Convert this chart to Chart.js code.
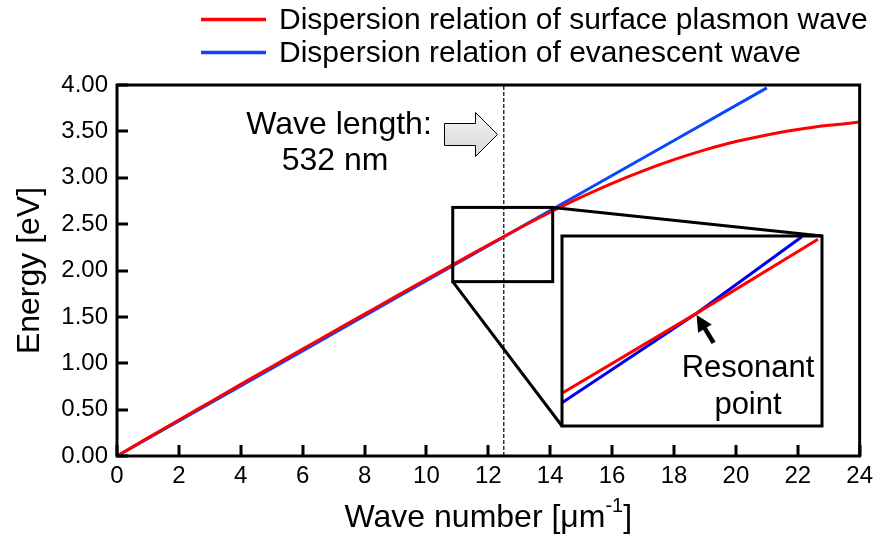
<!DOCTYPE html>
<html><head><meta charset="utf-8">
<script src="https://cdn.jsdelivr.net/npm/chart.js@4/dist/chart.umd.min.js"></script>
<style>
html,body{margin:0;padding:0;background:#fff;}
#wrap{position:relative;width:879px;height:538px;overflow:hidden;}
#main{position:absolute;left:0;top:0;}
#inset{position:absolute;left:559px;top:233px;}
</style></head><body>
<div id="wrap"><canvas id="main" width="879" height="538"></canvas><canvas id="inset" width="266" height="196"></canvas></div>
<script>
const FONT = '"Liberation Sans", Arial, Helvetica, sans-serif';

// Surface plasmon dispersion (wave number in 1/um, energy in eV)
const waveNumber = [0,1,2,3,4,5,6,7,8,9,10,11,12,13,14,15,16,17,18,19,20,21,22,23,24];
const plasmonEnergy = [0,0.195,0.388,0.580,0.772,0.962,1.152,1.342,1.530,1.718,1.905,2.090,2.275,2.455,2.628,2.790,2.940,3.075,3.195,3.300,3.390,3.460,3.520,3.565,3.600];

// Evanescent wave (light line)
const evanescentK = [0,3,6,9,12,15,18,21];
const evanescentEnergy = [0,0.567,1.134,1.701,2.268,2.835,3.402,3.969];

// 532 nm excitation marker
const laserK = [12.5,12.5];
const laserEnergy = [0,4];

const xTicks = [0,2,4,6,8,10,12,14,16,18,20,22,24];
const yTicks = [0,0.5,1,1.5,2,2.5,3,3.5,4];

// Magnified window around the resonance
const zoomK = [10.85,14.08];
const zoomEnergy = [1.88,2.68];
const insetPlasmonK = [10.85,12.51,14.03];
const insetPlasmonE = [2.018,2.352,2.666];
const insetEvanescentK = [10.85,12.51,13.83];
const insetEvanescentE = [1.978,2.352,2.677];
const resonance = [12.51,2.352];

const seriesNames = ['Dispersion relation of surface plasmon wave','Dispersion relation of evanescent wave'];
const seriesColors = ['#ff0000','#0a46ff'];

const INSET_BOX = {left:562, top:236, right:822, bottom:426};

const pts = (xs, ys) => xs.map((x,i)=>({x:x, y:ys[i]}));

const framePlugin = {
  id:'frame',
  afterDraw(chart){
    const ctx = chart.ctx, a = chart.chartArea;
    const xs = chart.scales.x, ys = chart.scales.y;
    ctx.save();
    ctx.strokeStyle = '#000';
    ctx.lineWidth = 3;
    ctx.lineCap = 'butt';
    ctx.strokeRect(a.left, a.top, a.right-a.left, a.bottom-a.top);
    // inward tick marks
    ctx.beginPath();
    xTicks.forEach(v=>{
      const px = Math.round(xs.getPixelForValue(v));
      ctx.moveTo(px, a.bottom); ctx.lineTo(px, a.bottom-11);
    });
    yTicks.forEach(v=>{
      const py = Math.round(ys.getPixelForValue(v));
      ctx.moveTo(a.left, py); ctx.lineTo(a.left+11, py);
    });
    ctx.stroke();

    // magnified window and its connectors
    const zl = xs.getPixelForValue(zoomK[0]), zr = xs.getPixelForValue(zoomK[1]);
    const zt = ys.getPixelForValue(zoomEnergy[1]), zb = ys.getPixelForValue(zoomEnergy[0]);
    ctx.strokeRect(zl, zt, zr-zl, zb-zt);
    ctx.beginPath();
    ctx.moveTo(zr, zt); ctx.lineTo(INSET_BOX.right, INSET_BOX.top);
    ctx.moveTo(zl, zb); ctx.lineTo(INSET_BOX.left, INSET_BOX.bottom);
    ctx.stroke();

    // legend
    ctx.fillStyle = '#000';
    ctx.font = '30px ' + FONT;
    ctx.textBaseline = 'middle';
    ctx.textAlign = 'left';
    chart.data.datasets.slice(0,2).forEach((ds,i)=>{
      const y = 19.5 + i*33;
      ctx.strokeStyle = ds.borderColor;
      ctx.lineWidth = 3.5;
      ctx.beginPath(); ctx.moveTo(201,y); ctx.lineTo(266,y); ctx.stroke();
      ctx.fillText(ds.label, 279, y+1);
    });

    // axis titles
    ctx.textBaseline = 'alphabetic';
    ctx.font = '32px ' + FONT;
    ctx.save();
    ctx.translate(39, (a.top+a.bottom)/2);
    ctx.rotate(-Math.PI/2);
    ctx.textAlign = 'center';
    ctx.fillText('Energy [eV]', 0, 0);
    ctx.restore();

    const t1 = 'Wave number [\u03bcm', t2 = '-1', t3 = ']';
    ctx.font = '32px ' + FONT;
    const w1 = ctx.measureText(t1).width, w3 = ctx.measureText(t3).width;
    ctx.font = '20px ' + FONT;
    const w2 = ctx.measureText(t2).width;
    let x0 = (a.left+a.right)/2 - (w1+w2+w3)/2;
    const base = 527;
    ctx.textAlign = 'left';
    ctx.font = '32px ' + FONT; ctx.fillText(t1, x0, base);
    ctx.font = '20px ' + FONT; ctx.fillText(t2, x0+w1, base-15);
    ctx.font = '32px ' + FONT; ctx.fillText(t3, x0+w1+w2, base);

    // wavelength annotation
    ctx.font = '32px ' + FONT;
    ctx.textAlign = 'center';
    ctx.fillText('Wave length:', 339, 134);
    ctx.fillText('532 nm', 335, 170);

    // block arrow
    const g = ctx.createLinearGradient(0,112,0,156);
    g.addColorStop(0,'#f4f4f4'); g.addColorStop(1,'#d6d6d6');
    ctx.fillStyle = g;
    ctx.strokeStyle = '#000';
    ctx.lineWidth = 1;
    ctx.beginPath();
    ctx.moveTo(444.5,123.5); ctx.lineTo(475.5,123.5); ctx.lineTo(475.5,112.5);
    ctx.lineTo(497.5,134.5); ctx.lineTo(475.5,156.5); ctx.lineTo(475.5,145.5);
    ctx.lineTo(444.5,145.5); ctx.closePath();
    ctx.fill(); ctx.stroke();

    // resonance label
    ctx.fillStyle = '#000';
    ctx.font = '31px ' + FONT;
    ctx.fillText('Resonant', 748, 377);
    ctx.fillText('point', 748, 414);
    ctx.restore();
  }
};

new Chart(document.getElementById('main'), {
  type:'line',
  data:{datasets:[
    {label:seriesNames[0], data:pts(waveNumber, plasmonEnergy), borderColor:seriesColors[0], borderWidth:3, pointRadius:0, cubicInterpolationMode:'monotone'},
    {label:seriesNames[1], data:pts(evanescentK, evanescentEnergy), borderColor:seriesColors[1], borderWidth:3, pointRadius:0},
    {label:'532 nm', data:pts(laserK, laserEnergy), borderColor:'#000', borderWidth:1.2, borderDash:[4,2], pointRadius:0}
  ]},
  options:{
    responsive:false, animation:false, devicePixelRatio:1,
    layout:{padding:{top:85, right:17, left:0, bottom:0}},
    plugins:{legend:{display:false}, tooltip:{enabled:false}},
    scales:{
      x:{type:'linear', min:0, max:24,
         afterBuildTicks:s=>{ s.ticks = xTicks.map(v=>({value:v})); },
         afterFit:s=>{ s.height = 82; },
         ticks:{font:{family:FONT, size:24}, color:'#000', padding:6, maxRotation:0, autoSkip:false},
         grid:{display:false, drawTicks:false}, border:{display:false}},
      y:{type:'linear', min:0, max:4,
         afterBuildTicks:s=>{ s.ticks = yTicks.map(v=>({value:v})); },
         afterFit:s=>{ s.width = 117; },
         ticks:{font:{family:FONT, size:24}, color:'#000', padding:9, autoSkip:false, callback:v=>Number(v).toFixed(2)},
         grid:{display:false, drawTicks:false}, border:{display:false}}
    }
  },
  plugins:[framePlugin]
});

const insetPlugin = {
  id:'insetFrame',
  afterDraw(chart){
    const ctx = chart.ctx, a = chart.chartArea;
    ctx.save();
    ctx.strokeStyle = '#000';
    ctx.lineWidth = 3;
    ctx.strokeRect(a.left, a.top, a.right-a.left, a.bottom-a.top);
    // arrow to the crossing point
    const tx = chart.scales.x.getPixelForValue(resonance[0]) + 1;
    const ty = chart.scales.y.getPixelForValue(resonance[1]) + 1;
    const ex = tx + 17, ey = ty + 28;
    const ang = Math.atan2(ey-ty, ex-tx);
    ctx.lineWidth = 4.5;
    ctx.beginPath();
    ctx.moveTo(ex, ey);
    ctx.lineTo(tx + Math.cos(ang)*12, ty + Math.sin(ang)*12);
    ctx.stroke();
    ctx.fillStyle = '#000';
    ctx.beginPath();
    ctx.moveTo(tx, ty);
    ctx.lineTo(tx + Math.cos(ang)*16 - Math.sin(ang)*8, ty + Math.sin(ang)*16 + Math.cos(ang)*8);
    ctx.lineTo(tx + Math.cos(ang)*16 + Math.sin(ang)*8, ty + Math.sin(ang)*16 - Math.cos(ang)*8);
    ctx.closePath();
    ctx.fill();
    ctx.restore();
  }
};

new Chart(document.getElementById('inset'), {
  type:'line',
  data:{datasets:[
    {data:pts(insetPlasmonK, insetPlasmonE), borderColor:'#ff0000', borderWidth:3, pointRadius:0},
    {data:pts(insetEvanescentK, insetEvanescentE), borderColor:'#0000ee', borderWidth:3, pointRadius:0}
  ]},
  options:{
    responsive:false, animation:false, devicePixelRatio:1,
    layout:{padding:3},
    plugins:{legend:{display:false}, tooltip:{enabled:false}},
    scales:{
      x:{type:'linear', display:false, min:zoomK[0], max:zoomK[1]},
      y:{type:'linear', display:false, min:zoomEnergy[0], max:zoomEnergy[1]}
    }
  },
  plugins:[insetPlugin]
});
</script>
</body></html>
